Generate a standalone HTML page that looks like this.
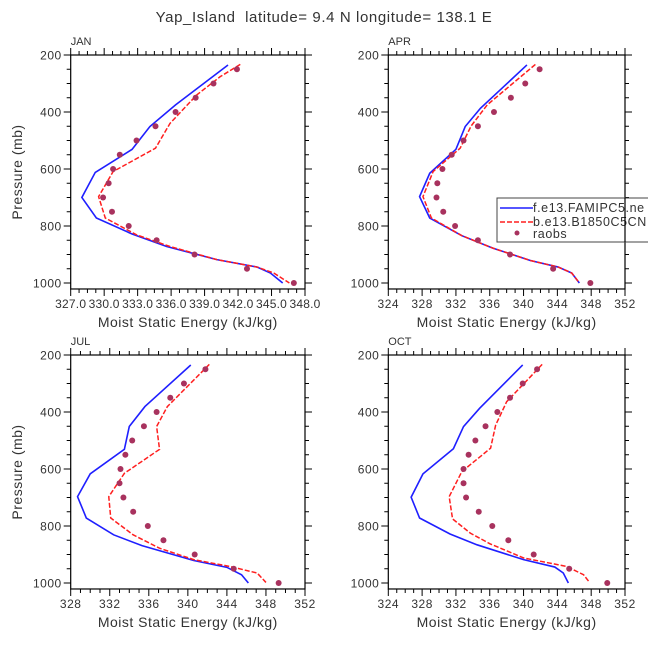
<!DOCTYPE html>
<html><head><meta charset="utf-8"><style>
html,body{margin:0;padding:0;background:#fff;}
svg text{font-family:"Liberation Sans",sans-serif;fill:#333;white-space:pre;}
</style></head><body>
<svg id="chart" width="648" height="648" viewBox="0 0 648 648">
<text x="324" y="22" text-anchor="middle" font-size="15" letter-spacing="0.6">Yap_Island  latitude= 9.4 N longitude= 138.1 E</text>
</svg>
<script>
// ---- data ----
const obsLevels=[250,300,350,400,450,500,550,600,650,700,750,800,850,900,950,1000];
const janObs=[341.9,339.8,338.2,336.4,334.6,332.9,331.4,330.8,330.4,329.9,330.7,332.2,334.7,338.1,342.8,347.0];
const janBlueP=[235,375,451,531,612,700,772,828,872,918,944,965,1000];
const janBlue=[341.1,336.4,334.1,332.5,329.2,328.0,329.3,332.5,335.6,340.1,343.7,344.9,346.0];
const janRedP=[233,276,340,440,527,609,697,772,831,872,918,944,965,1000];
const janRed=[342.2,340.4,338.3,335.9,334.6,330.8,329.5,330.1,332.9,335.9,340.1,343.7,345.2,346.6];
const aprObs=[341.9,340.2,338.5,336.5,334.6,332.9,331.5,330.4,329.8,329.7,330.5,331.9,334.6,338.4,343.5,347.9];
const aprBlueP=[235,387,451,531,615,697,772,834,878,921,944,965,1000];
const aprBlue=[340.4,334.9,333.1,332.0,328.9,327.7,328.9,332.7,336.4,340.8,344.1,345.7,346.6];
const aprRedP=[233,375,449,527,609,697,772,834,878,921,944,965,1000];
const aprRed=[341.4,335.7,333.8,332.5,329.3,328.1,329.1,332.7,336.4,340.8,344.1,345.7,346.6];
const julObs=[341.8,339.6,338.2,336.8,335.5,334.3,333.6,333.1,333.0,333.4,334.4,335.9,337.5,340.7,344.7,349.3];
const julBlueP=[235,381,451,531,617,697,772,831,869,921,945,971,1000];
const julBlue=[340.3,335.6,334.0,333.5,330.0,328.7,329.6,332.4,335.3,340.6,344.0,345.5,346.2];
const julRedP=[233,381,451,531,615,697,772,831,878,918,942,965,998];
const julRed=[342.2,337.9,336.8,337.1,333.5,331.9,332.1,334.4,337.1,340.6,344.3,347.1,348.0];
const octObs=[341.6,339.9,338.4,336.9,335.5,334.3,333.5,332.9,332.9,333.2,334.7,336.3,338.2,341.2,345.4,349.9];
const octBlueP=[235,387,451,529,617,699,772,828,866,918,944,965,1000];
const octBlue=[339.9,334.8,332.9,331.7,328.1,326.7,327.7,331.3,334.5,340.0,343.7,344.7,345.3];
const octRedP=[233,364,446,527,609,697,775,825,862,912,942,971,994];
const octRed=[342.2,338.0,336.7,336.1,332.7,331.2,331.6,333.7,336.0,340.0,345.1,347.1,347.7];
const yTicks=[200,400,600,800,1000];
const janXTicks=["327.0","330.0","333.0","336.0","339.0","342.0","345.0","348.0"];
const otherXTicks=["324","328","332","336","340","344","348","352"];
const julXTicks=["328","332","336","340","344","348","352"];

const NS="http://www.w3.org/2000/svg";
const svg=document.getElementById('chart');
function mk(tag,attrs,parent){const e=document.createElementNS(NS,tag);for(const k in attrs)e.setAttribute(k,attrs[k]);(parent||svg).appendChild(e);return e;}

const panels=[
 {id:'jan',label:'JAN',x0:70.7,x1:305,y0:55,xmin:327,xmax:348,maj:3,minStep:0.75,ticks:janXTicks,obs:janObs,bP:janBlueP,b:janBlue,rP:janRedP,r:janRed},
 {id:'apr',label:'APR',x0:388.3,x1:625,y0:55,xmin:324,xmax:352,maj:4,minStep:1,ticks:otherXTicks,obs:aprObs,bP:aprBlueP,b:aprBlue,rP:aprRedP,r:aprRed},
 {id:'jul',label:'JUL',x0:70.7,x1:305,y0:355,xmin:328,xmax:352,maj:4,minStep:1,ticks:julXTicks,obs:julObs,bP:julBlueP,b:julBlue,rP:julRedP,r:julRed},
 {id:'oct',label:'OCT',x0:388.3,x1:625,y0:355,xmin:324,xmax:352,maj:4,minStep:1,ticks:otherXTicks,obs:octObs,bP:octBlueP,b:octBlue,rP:octRedP,r:octRed}
];
const PMIN=200,PMAX=1021,PPX=0.285;
panels.forEach(P=>{
 const g=mk('g',{});
 
 
 const X=v=>P.x0+(v-P.xmin)/(P.xmax-P.xmin)*(P.x1-P.x0);
 const Y=p=>P.y0+(p-PMIN)*PPX;
 const y1=Y(PMAX);
 const frame=mk('rect',{x:P.x0,y:P.y0,width:P.x1-P.x0,height:y1-P.y0,fill:'none',stroke:'#000','stroke-width':1.2},g);
 
 
 for(let p=250;p<=1000;p+=50){
  const major=(p%200===0);const L=major?7:4;
  mk('line',{x1:P.x0-L,x2:P.x0,y1:Y(p),y2:Y(p),stroke:'#000','stroke-width':1},g);
  mk('line',{x1:P.x1,x2:P.x1+L,y1:Y(p),y2:Y(p),stroke:'#000','stroke-width':1},g);
 }
 mk('line',{x1:P.x0-7,x2:P.x0,y1:Y(200),y2:Y(200),stroke:'#000'},g);
 mk('line',{x1:P.x1,x2:P.x1+7,y1:Y(200),y2:Y(200),stroke:'#000'},g);
 yTicks.forEach(p=>{const t=mk('text',{x:P.x0-9,y:Y(p)+4.5,'text-anchor':'end','font-size':12,'letter-spacing':0.5},g);t.textContent=p;
  
  });
 for(let v=P.xmin;v<=P.xmax+1e-6;v+=P.minStep){
  const major=Math.abs(((v-P.xmin)/P.maj)-Math.round((v-P.xmin)/P.maj))<1e-6;const L=major?7:4;
  mk('line',{x1:X(v),x2:X(v),y1:P.y0-L,y2:P.y0,stroke:'#000'},g);
  mk('line',{x1:X(v),x2:X(v),y1:y1,y2:y1+L,stroke:'#000'},g);
 }
 P.ticks.forEach((s,i)=>{const t=mk('text',{x:X(P.xmin+i*P.maj),y:y1+19,'text-anchor':'middle','font-size':12,'letter-spacing':P.id==='jan'?0.2:0.5},g);t.textContent=s;
  
  });
 const xt=mk('text',{x:(P.x0+P.x1)/2,y:y1+38,'text-anchor':'middle','font-size':14,'letter-spacing':0.5},g);xt.textContent='Moist Static Energy (kJ/kg)';
 
 
 const lb=mk('text',{x:P.x0,y:P.y0-10,'font-size':11},g);lb.textContent=P.label;
 
 
 if(P.x0<100){const yt=mk('text',{x:0,y:0,'text-anchor':'middle','font-size':14,'letter-spacing':0.5,transform:`translate(22,${(P.y0+y1)/2}) rotate(-90)`},g);yt.textContent='Pressure (mb)';
  
  }
 const bl=mk('polyline',{points:P.b.map((v,i)=>X(v)+','+Y(P.bP[i])).join(' '),fill:'none',stroke:'#1f1fff','stroke-width':1.6},g);
 
 
 const rl=mk('polyline',{points:P.r.map((v,i)=>X(v)+','+Y(P.rP[i])).join(' '),fill:'none',stroke:'#ff1f1f','stroke-width':1.5,'stroke-dasharray':'5,2'},g);
 
 
 P.obs.forEach((v,i)=>{const c=mk('circle',{cx:X(v),cy:Y(obsLevels[i]),r:3,fill:'#a8325e'},g);
  
  });
});
const lg=mk('g',{});


mk('rect',{x:497,y:198,width:160,height:44,fill:'#fff',stroke:'#444','stroke-width':1},lg);
mk('line',{x1:500,x2:533,y1:208,y2:208,stroke:'#1f1fff','stroke-width':1.6},lg);
mk('line',{x1:500,x2:533,y1:222,y2:222,stroke:'#ff1f1f','stroke-width':1.5,'stroke-dasharray':'5,2'},lg);
mk('circle',{cx:517,cy:233,r:2.5,fill:'#a8325e'},lg);
[['f.e13.FAMIPC5.ne',212],['b.e13.B1850C5CN',226],['raobs',238]].forEach(a=>{const t=mk('text',{x:533,y:a[1],'font-size':12.5,'letter-spacing':0.6},lg);t.textContent=a[0];
 
 });
mk('line',{x1:625,x2:625,y1:198,y2:242,stroke:'#000','stroke-width':1.2},lg);
</script>
</body></html>
